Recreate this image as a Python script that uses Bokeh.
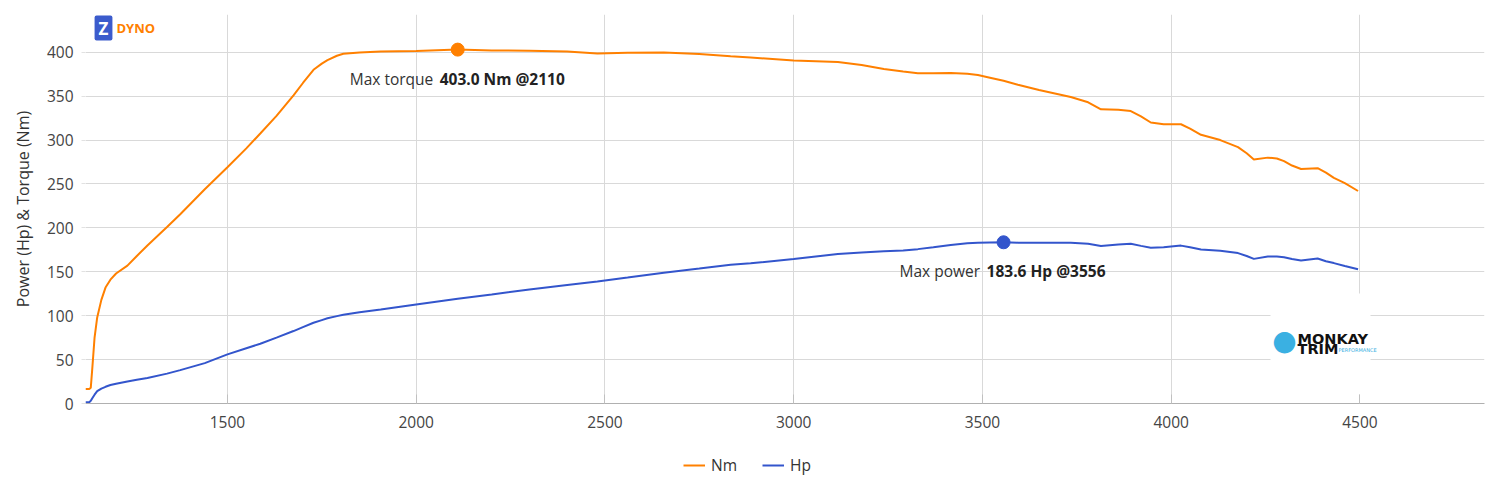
from bokeh.plotting import figure
from bokeh.layouts import column
from bokeh.models import (Range1d, Legend, LegendItem, Label, BoxAnnotation, FixedTicker)
from bokeh.embed import file_html
from bokeh.resources import INLINE
from bokeh.core.properties import value

# ---------------- data ----------------
rpm = [1124, 1134, 1138, 1142, 1148, 1155, 1166, 1177, 1190, 1205, 1235, 1260, 1288, 1340, 1375,
       1440, 1500, 1550, 1587, 1630, 1675, 1700, 1728, 1750, 1765, 1790, 1807, 1850, 1906, 2000,
       2110, 2200, 2300, 2400, 2480, 2560, 2656, 2750, 2833, 2886, 3000, 3117, 3180, 3239, 3290,
       3329, 3370, 3416, 3460, 3488, 3520, 3556, 3594, 3650, 3734, 3780, 3814, 3860, 3893, 3920,
       3946, 3980, 4026, 4050, 4079, 4130, 4177, 4200, 4219, 4256, 4280, 4299, 4320, 4344, 4388,
       4410, 4431, 4460, 4495]

torque_nm = [16.5, 16.5, 18, 40, 75, 98, 118, 132, 141, 148, 157, 168, 180, 201, 215.5,
             244, 269, 290.5, 307.5, 327.5, 351, 365, 380, 387, 391, 396, 398.3, 399.6, 400.8, 401.5,
             403, 402, 401.8, 401, 398.5, 399.3, 399.7, 398, 395.5, 394, 390.5, 389, 385.5, 381, 378,
             376, 376, 376.5, 375.5, 374, 371, 367.5, 363, 357, 349, 343, 335, 334.5, 333, 327,
             320, 318, 318, 313, 306, 300, 292, 285, 278, 280, 279, 276, 271, 267, 268,
             263, 257, 251, 242]

power_hp = [1.5, 1.5, 3, 6, 10, 14, 17, 19, 21, 22.5, 25, 27, 29, 34, 38,
            46, 56, 63, 68, 75, 82.5, 87, 92, 95, 97, 99.5, 101, 104, 107, 112.8,
            119.4, 124.2, 129.8, 135, 139, 143.5, 149, 153.7, 158, 159.7, 164.5, 170.3, 172, 173.3, 174.3,
            175.8, 178, 180.6, 182.4, 183.2, 183.4, 183.6, 183.2, 183, 183, 182, 179.4, 181, 182, 179.5,
            177.3, 178, 179.8, 178, 175.3, 174, 171.3, 168, 164.7, 167.3, 167.5, 166.6, 164.5, 162.9, 165.1,
            162, 159.9, 156.5, 152.8]

max_torque_rpm = 2110
max_torque = 403.0
max_power_rpm = 3556
max_power = 183.6

series_names = ["Nm", "Hp"]
x_ticks = [1500, 2000, 2500, 3000, 3500, 4000, 4500]
y_ticks = [0, 50, 100, 150, 200, 250, 300, 350, 400]
y_title = "Power (Hp) & Torque (Nm)"

# ---------------- style ----------------
FONT = "Open Sans"
ORANGE = "#ff8000"
BLUE = "#3355cc"
GRID = "#d9d9d9"
TXT = "#333333"

p = figure(width=1492, height=453, x_range=Range1d(1124, 4830), y_range=Range1d(0, 443),
           output_backend="svg", toolbar_location=None,
           min_border_left=85, min_border_right=8, min_border_top=14, min_border_bottom=50)
p.outline_line_color = None
p.background_fill_color = "white"
p.border_fill_color = "white"

p.xaxis.ticker = FixedTicker(ticks=x_ticks)
p.yaxis.ticker = FixedTicker(ticks=y_ticks)
p.xgrid.grid_line_color = GRID
p.ygrid.grid_line_color = GRID

for ax in (p.xaxis[0], p.yaxis[0]):
    ax.major_label_text_font = FONT
    ax.major_label_text_font_size = "15.5px"
    ax.major_label_text_color = "#444444"
    ax.minor_tick_line_color = None

p.xaxis.axis_line_color = "#b0b0b0"
p.xaxis.major_tick_line_color = "#c0c0c0"
p.xaxis.major_tick_in = 9
p.xaxis.major_tick_out = 0
p.xaxis.major_label_standoff = 12

p.yaxis.axis_line_color = None
p.yaxis.major_tick_line_color = "#e2e2e2"
p.yaxis.major_tick_in = 0
p.yaxis.major_tick_out = 4
p.yaxis.major_label_standoff = 8
p.yaxis.axis_label = y_title
p.yaxis.axis_label_text_font = FONT
p.yaxis.axis_label_text_font_size = "16px"
p.yaxis.axis_label_text_font_style = "normal"
p.yaxis.axis_label_text_color = TXT
p.yaxis.axis_label_standoff = 10

# logo box (bottom right), under the curves
logo_bg = BoxAnnotation(left=1185, right=1285, bottom=9, top=110,
                        left_units="screen", right_units="screen",
                        bottom_units="screen", top_units="screen",
                        fill_color="white", fill_alpha=1.0, line_color=None, level="underlay")
p.add_layout(logo_bg)

r_t = p.line(rpm, torque_nm, line_color=ORANGE, line_width=2)
r_p = p.line(rpm, power_hp, line_color=BLUE, line_width=2)

p.scatter([max_torque_rpm], [max_torque], size=13, fill_color=ORANGE, line_color=ORANGE)
p.scatter([max_power_rpm], [max_power], size=13, fill_color=BLUE, line_color=BLUE)

common = dict(text_baseline="middle", text_align="left", text_font=value(FONT),
              text_font_size="15.5px")
p.text([max_torque_rpm], [max_torque], text=["Max torque"], x_offset=-108, y_offset=29,
       text_color=TXT, **common)
p.text([max_torque_rpm], [max_torque], text=[f"{max_torque:.1f} Nm @{max_torque_rpm}"],
       x_offset=-18, y_offset=29, text_color="#222222", text_font_style="bold", **common)
p.text([max_power_rpm], [max_power], text=["Max power"], x_offset=-104, y_offset=29,
       text_color=TXT, **common)
p.text([max_power_rpm], [max_power], text=[f"{max_power:.1f} Hp @{max_power_rpm}"],
       x_offset=-17, y_offset=29, text_color="#222222", text_font_style="bold", **common)

# top-left brand
p.add_layout(Label(x=18, y=375.5, x_units="screen", y_units="screen", text="Z",
                   text_align="center", text_baseline="middle", text_color="white",
                   text_font=FONT, text_font_style="bold", text_font_size="17px",
                   background_fill_color="#3b5bcc", padding=(4, 1), border_radius=2))
p.add_layout(Label(x=31, y=375.5, x_units="screen", y_units="screen", text="DYNO",
                   text_align="left", text_baseline="middle", text_color=ORANGE,
                   text_font=FONT, text_font_style="bold", text_font_size="13px"))

# bottom-right brand
p.add_layout(Label(x=1199, y=63, x_units="screen", y_units="screen", text="●",
                   text_align="center", text_baseline="middle", text_color="#3ab0e2",
                   text_font="DejaVu Sans", text_font_size="28px"))
p.add_layout(Label(x=1212, y=65, x_units="screen", y_units="screen", text="MONKAY",
                   text_align="left", text_baseline="middle", text_color="#111111",
                   text_font="DejaVu Sans", text_font_style="bold", text_font_size="14.5px"))
p.add_layout(Label(x=1212, y=54.5, x_units="screen", y_units="screen", text="TRIM",
                   text_align="left", text_baseline="middle", text_color="#111111",
                   text_font="DejaVu Sans", text_font_style="bold", text_font_size="14.5px"))
p.add_layout(Label(x=1253, y=54, x_units="screen", y_units="screen", text="PERFORMANCE",
                   text_align="left", text_baseline="middle", text_color="#3ab0e2",
                   text_font="DejaVu Sans", text_font_size="5px"))

# legend strip below the chart (its own ranges keep the proxy lines out of view)
p2 = figure(width=1492, height=39, x_range=Range1d(0, 1), y_range=Range1d(0, 1),
            output_backend="svg", toolbar_location=None, x_axis_type=None, y_axis_type=None,
            min_border_left=85, min_border_right=8, min_border_top=0, min_border_bottom=0)
p2.outline_line_color = None
p2.grid.visible = False
k_t = p2.line(rpm, torque_nm, line_color=ORANGE, line_width=2)
k_p = p2.line(rpm, power_hp, line_color=BLUE, line_width=2)
legend = Legend(items=[LegendItem(label=series_names[0], renderers=[k_t]),
                       LegendItem(label=series_names[1], renderers=[k_p])],
                orientation="horizontal", location=(598, 16), padding=0, margin=0,
                spacing=25, glyph_width=22, glyph_height=20, label_standoff=6,
                border_line_color=None, background_fill_alpha=0,
                label_text_font=FONT, label_text_font_size="15.5px", label_text_color=TXT)
p2.add_layout(legend)

page = column(p, p2, spacing=0)
open("out.html", "w").write(file_html(page, INLINE))
